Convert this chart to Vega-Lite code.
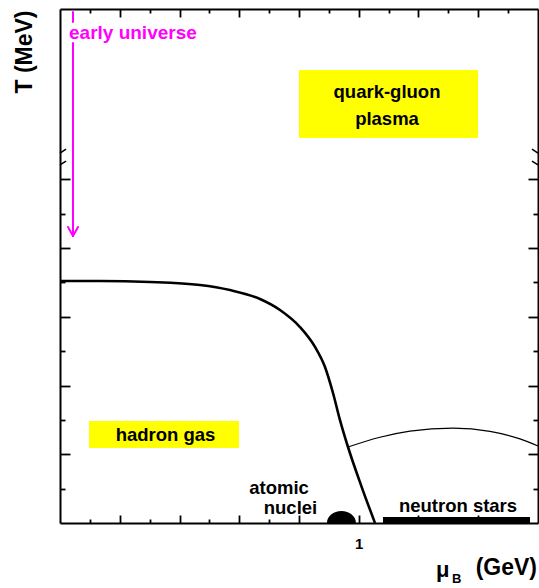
{
  "$schema": "https://vega.github.io/schema/vega-lite/v6.json",
  "width": 478,
  "height": 514,
  "autosize": "none",
  "padding": {"left": 60, "top": 9, "right": 1, "bottom": 65},
  "background": "white",
  "config": {
    "view": {"stroke": null},
    "axis": {"grid": false, "domainColor": "black", "domainWidth": 2, "tickColor": "black", "tickWidth": 1.8, "labels": false, "title": null, "zindex": 1}
  },
  "datasets": {
    "boundary": [
      {"x": 0, "y": 176.1}, {"x": 0.1339, "y": 176.1}, {"x": 0.3013, "y": 175.4}, {"x": 0.4686, "y": 173.2},
      {"x": 0.569, "y": 169.5}, {"x": 0.6695, "y": 163.0}, {"x": 0.7364, "y": 155.0}, {"x": 0.8033, "y": 142.6},
      {"x": 0.8536, "y": 128.1}, {"x": 0.887, "y": 113.5}, {"x": 0.9138, "y": 94.6}, {"x": 0.9372, "y": 74.9},
      {"x": 0.964, "y": 55.3}, {"x": 1.0075, "y": 27.6}, {"x": 1.0544, "y": 0}
    ],
    "critical": [
      {"x": 0.964, "y": 55.3}, {"x": 1.0711, "y": 62.4}, {"x": 1.1715, "y": 66.8}, {"x": 1.3155, "y": 69.1},
      {"x": 1.4393, "y": 66.7}, {"x": 1.5397, "y": 61.2}, {"x": 1.6, "y": 56.0}
    ],
    "boxes": [
      {"x": 0.8, "x2": 1.3991, "y": 329.6, "y2": 280.1},
      {"x": 0.0971, "x2": 0.5992, "y": 74.2, "y2": 54.6}
    ],
    "stars": [{"x": 1.0812, "x2": 1.5732, "y": 0, "y2": 4.4}],
    "nuclei": [{"x": 0.942, "y": 0}],
    "universe": [
      {"x": 0.0435, "x2": 0.0435, "y": 371.8, "y2": 364.5},
      {"x": 0.0435, "x2": 0.0435, "y": 349.3, "y2": 208.8},
      {"x": 0.0268, "x2": 0.0435, "y": 215.4, "y2": 208.8},
      {"x": 0.0602, "x2": 0.0435, "y": 215.4, "y2": 208.8}
    ],
    "breaks": [
      {"x": 0, "x2": 0.0201, "y": 269.2, "y2": 272.1},
      {"x": 0, "x2": 0.0201, "y": 260.5, "y2": 263.4},
      {"x": 1.6, "x2": 1.5799, "y": 269.2, "y2": 272.1},
      {"x": 1.6, "x2": 1.5799, "y": 260.5, "y2": 263.4}
    ],
    "phases": [
      {"x": 1.0946, "y": 309.2, "label": "quark-gluon"},
      {"x": 1.0946, "y": 289.6, "label": "plasma"},
      {"x": 0.3531, "y": 59.7, "label": "hadron gas"},
      {"x": 0.7331, "y": 21.1, "label": "atomic"},
      {"x": 0.7715, "y": 6.6, "label": "nuclei"},
      {"x": 1.3322, "y": 8.0, "label": "neutron stars"}
    ],
    "early": [{"x": 0.0301, "y": 352.5, "label": "early universe"}],
    "mu": [{"x": 1.2586, "y": -39.3, "label": "μ"}],
    "sub": [{"x": 1.3121, "y": -43.7, "label": "B"}],
    "unit": [{"x": 1.5967, "y": -37.8, "label": "(GeV)"}]
  },
  "encoding": {
    "x": {"field": "x", "type": "quantitative", "scale": {"domain": [0, 1.6], "nice": false, "zero": false}, "axis": null},
    "y": {"field": "y", "type": "quantitative", "scale": {"domain": [0, 374], "nice": false, "zero": false}, "axis": null}
  },
  "layer": [
    {
      "data": {"name": "boxes"},
      "mark": {"type": "rect", "color": "#ffff00"},
      "encoding": {"x2": {"field": "x2"}, "y2": {"field": "y2"}}
    },
    {
      "data": {"name": "boundary"},
      "mark": {"type": "line", "color": "black", "strokeWidth": 2.6, "interpolate": "monotone"},
      "encoding": {
        "x": {"field": "x", "type": "quantitative", "scale": {"domain": [0, 1.6], "nice": false, "zero": false},
          "axis": {"orient": "bottom", "values": [0.1, 0.2, 0.3, 0.4, 0.5, 0.6, 0.7, 0.8, 0.9, 1, 1.1, 1.2, 1.3, 1.4, 1.5],
            "tickSize": {"condition": {"test": "abs(datum.value*5 - round(datum.value*5)) < 0.01", "value": -8}, "value": -4},
            "labels": true, "labelExpr": "datum.value == 1 ? '1' : ''", "labelOverlap": false,
            "labelFont": "Liberation Sans", "labelFontWeight": "bold", "labelFontSize": 15, "labelColor": "black", "labelPadding": 21}},
        "y": {"field": "y", "type": "quantitative", "scale": {"domain": [0, 374], "nice": false, "zero": false},
          "axis": {"orient": "left", "values": [25, 50, 75, 100, 125, 150, 175, 200, 225, 250],
            "tickSize": {"condition": {"test": "datum.value % 50 == 0", "value": -10}, "value": -5},
            "title": "T (MeV)", "titleFont": "Liberation Sans", "titleFontWeight": "bold", "titleFontSize": 23, "titleColor": "black",
            "titleAngle": 270, "titleAlign": "right", "titleBaseline": "alphabetic", "titleX": -29, "titleY": 1}}
      }
    },
    {
      "data": {"name": "critical"},
      "mark": {"type": "line", "color": "black", "strokeWidth": 1.2, "interpolate": "monotone"},
      "encoding": {
        "x": {"field": "x", "type": "quantitative", "scale": {"domain": [0, 1.6], "nice": false, "zero": false},
          "axis": {"orient": "top", "values": [0.1, 0.2, 0.3, 0.4, 0.5, 0.6, 0.7, 0.8, 0.9, 1, 1.1, 1.2, 1.3, 1.4, 1.5],
            "tickSize": {"condition": {"test": "abs(datum.value*5 - round(datum.value*5)) < 0.01", "value": -8}, "value": -4}}},
        "y": {"field": "y", "type": "quantitative", "scale": {"domain": [0, 374], "nice": false, "zero": false},
          "axis": {"orient": "right", "values": [25, 50, 75, 100, 125, 150, 175, 200, 225, 250],
            "tickSize": {"condition": {"test": "datum.value % 50 == 0", "value": -10}, "value": -5}}}
      }
    },
    {
      "data": {"name": "stars"},
      "mark": {"type": "rect", "color": "black"},
      "encoding": {"x2": {"field": "x2"}, "y2": {"field": "y2"}}
    },
    {
      "data": {"name": "nuclei"},
      "mark": {"type": "point", "shape": "M-1,0 A1,0.83 0 0,1 1,0 Z", "size": 841, "filled": true, "color": "black", "opacity": 1, "strokeWidth": 0}
    },
    {
      "data": {"name": "universe"},
      "mark": {"type": "rule", "color": "#ff00ff", "strokeWidth": 2, "strokeCap": "round"},
      "encoding": {"x2": {"field": "x2"}, "y2": {"field": "y2"}}
    },
    {
      "data": {"name": "breaks"},
      "mark": {"type": "rule", "color": "black", "strokeWidth": 1.5},
      "encoding": {"x2": {"field": "x2"}, "y2": {"field": "y2"}}
    },
    {
      "data": {"name": "phases"},
      "mark": {"type": "text", "font": "Liberation Sans", "fontWeight": "bold", "fontSize": 18.5, "color": "black", "align": "center", "baseline": "alphabetic"},
      "encoding": {"text": {"field": "label"}}
    },
    {
      "data": {"name": "early"},
      "mark": {"type": "text", "font": "Liberation Sans", "fontWeight": "bold", "fontSize": 19, "color": "#ff00ff", "align": "left", "baseline": "alphabetic"},
      "encoding": {"text": {"field": "label"}}
    },
    {
      "data": {"name": "mu"},
      "mark": {"type": "text", "font": "Liberation Sans", "fontWeight": "bold", "fontSize": 22, "color": "black", "align": "left", "baseline": "alphabetic"},
      "encoding": {"text": {"field": "label"}}
    },
    {
      "data": {"name": "sub"},
      "mark": {"type": "text", "font": "Liberation Sans", "fontWeight": "bold", "fontSize": 13, "color": "black", "align": "left", "baseline": "alphabetic"},
      "encoding": {"text": {"field": "label"}}
    },
    {
      "data": {"name": "unit"},
      "mark": {"type": "text", "font": "Liberation Sans", "fontWeight": "bold", "fontSize": 23, "color": "black", "align": "right", "baseline": "alphabetic"},
      "encoding": {"text": {"field": "label"}}
    }
  ],
  "resolve": {"axis": {"x": "independent", "y": "independent"}}
}
